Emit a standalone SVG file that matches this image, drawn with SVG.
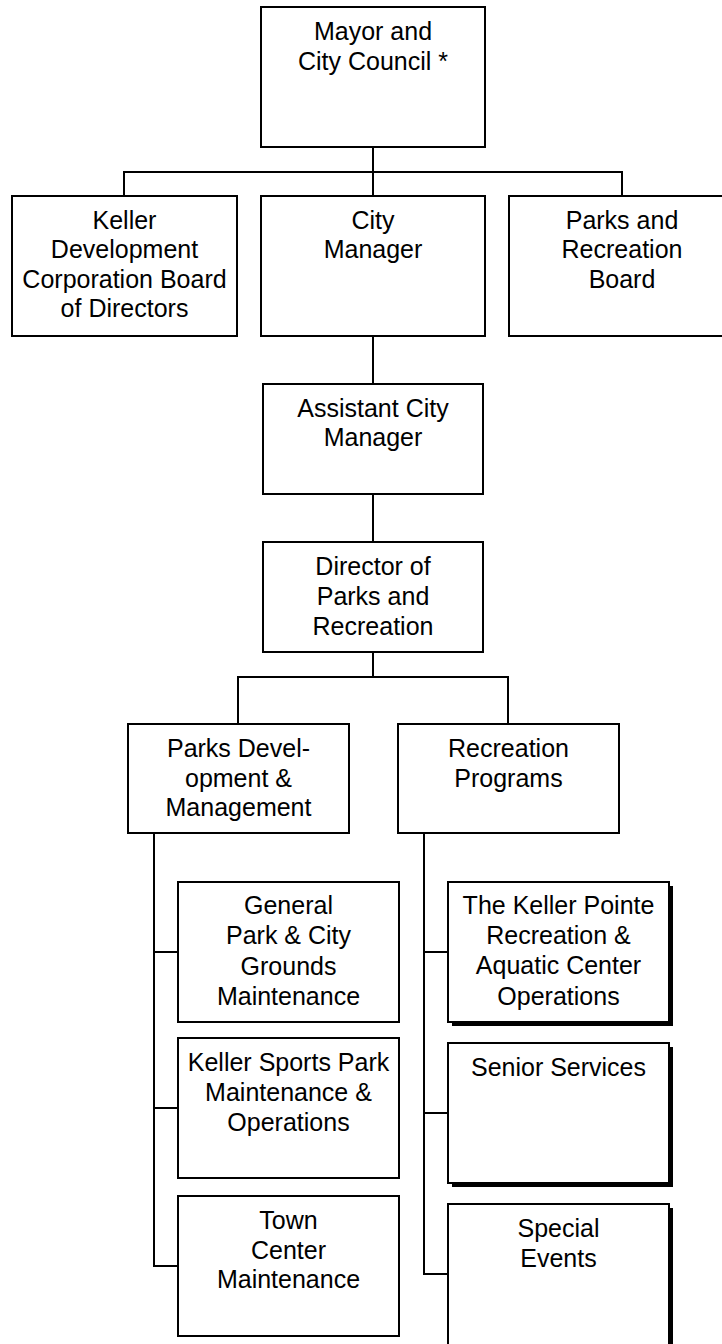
<svg xmlns="http://www.w3.org/2000/svg" width="722" height="1344" viewBox="0 0 722 1344">
<style>
.box{fill:#fff;stroke:#000;stroke-width:2}
.sh{fill:#000}
.ln{fill:none;stroke:#000;stroke-width:2}
text{font-family:"Liberation Sans",Arial,sans-serif;font-size:25px;fill:#000;text-anchor:middle}
</style>
<rect width="722" height="1344" fill="#fff"/>
<g id="connectors">
<path class="ln" d="M373 147V196M124 196V172H622V196"/>
<path class="ln" d="M373 336V384M373 494V542M373 652V677M238 724V677H508V724"/>
<path class="ln" d="M154 833V1266H178M154 952H178M154 1108H178"/>
<path class="ln" d="M424 833V1274H448M424 952H448M424 1113H448"/>
</g>
<g id="mayor">
<rect class="box" x="261" y="7" width="224" height="140"/>
<text x="373" y="40">Mayor and</text>
<text x="373" y="70">City Council *</text>
</g>
<g id="kdc">
<rect class="box" x="12" y="196" width="225" height="140"/>
<text x="124.5" y="229">Keller</text>
<text x="124.5" y="258">Development</text>
<text x="124.5" y="288">Corporation Board</text>
<text x="124.5" y="317">of Directors</text>
</g>
<g id="city-manager">
<rect class="box" x="261" y="196" width="224" height="140"/>
<text x="373" y="229">City</text>
<text x="373" y="258">Manager</text>
</g>
<g id="parks-board">
<rect class="box" x="509" y="196" width="226" height="140"/>
<text x="622" y="229">Parks and</text>
<text x="622" y="258">Recreation</text>
<text x="622" y="288">Board</text>
</g>
<g id="assistant">
<rect class="box" x="263" y="384" width="220" height="110"/>
<text x="373" y="417">Assistant City</text>
<text x="373" y="446">Manager</text>
</g>
<g id="director">
<rect class="box" x="263" y="542" width="220" height="110"/>
<text x="373" y="575">Director of</text>
<text x="373" y="605">Parks and</text>
<text x="373" y="635">Recreation</text>
</g>
<g id="parks-dev">
<rect class="box" x="128" y="724" width="221" height="109"/>
<text x="238.5" y="757">Parks Devel-</text>
<text x="238.5" y="787">opment &amp;</text>
<text x="238.5" y="816">Management</text>
</g>
<g id="rec-programs">
<rect class="box" x="398" y="724" width="221" height="109"/>
<text x="508.5" y="757">Recreation</text>
<text x="508.5" y="787">Programs</text>
</g>
<g id="general-park">
<rect class="box" x="178" y="882" width="221" height="140"/>
<text x="288.5" y="914">General</text>
<text x="288.5" y="944">Park &amp; City</text>
<text x="288.5" y="975">Grounds</text>
<text x="288.5" y="1005">Maintenance</text>
</g>
<g id="sports-park">
<rect class="box" x="178" y="1038" width="221" height="140"/>
<text x="288.5" y="1071">Keller Sports Park</text>
<text x="288.5" y="1101">Maintenance &amp;</text>
<text x="288.5" y="1131">Operations</text>
</g>
<g id="town-center">
<rect class="box" x="178" y="1196" width="221" height="140"/>
<text x="288.5" y="1229">Town</text>
<text x="288.5" y="1259">Center</text>
<text x="288.5" y="1288">Maintenance</text>
</g>
<g id="keller-pointe">
<rect class="sh" x="452" y="886" width="221" height="140"/>
<rect class="box" x="448" y="882" width="221" height="140"/>
<text x="558.5" y="914">The Keller Pointe</text>
<text x="558.5" y="944">Recreation &amp;</text>
<text x="558.5" y="974">Aquatic Center</text>
<text x="558.5" y="1005">Operations</text>
</g>
<g id="senior">
<rect class="sh" x="452" y="1047" width="221" height="140"/>
<rect class="box" x="448" y="1043" width="221" height="140"/>
<text x="558.5" y="1076">Senior Services</text>
</g>
<g id="special-events">
<rect class="sh" x="452" y="1208" width="221" height="150"/>
<rect class="box" x="448" y="1204" width="221" height="150"/>
<text x="558.5" y="1237">Special</text>
<text x="558.5" y="1267">Events</text>
</g>
</svg>
